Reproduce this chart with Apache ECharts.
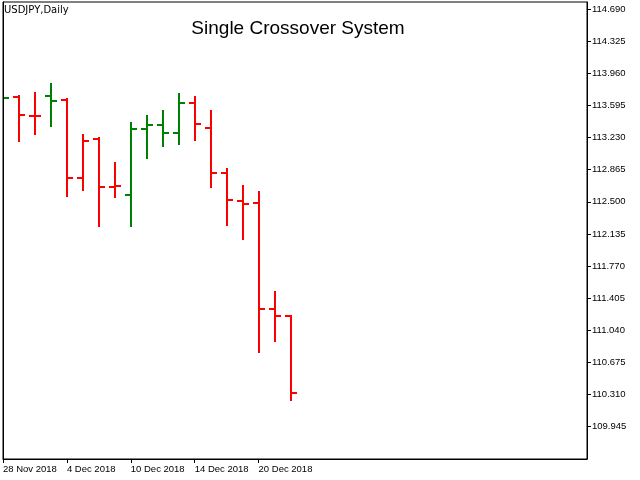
<!DOCTYPE html>
<html>
<head>
<meta charset="utf-8">
<script src="https://cdn.jsdelivr.net/npm/echarts@6/dist/echarts.min.js"></script>
<style>
    html, body { margin: 0; padding: 0; background: #ffffff; }
    #chart { width: 640px; height: 480px; }
</style>
</head>
<body>
<div id="chart"></div>
<script>
// 日线数据 USDJPY
var dates = ['28 Nov 2018', '29 Nov 2018', '30 Nov 2018', '3 Dec 2018', '4 Dec 2018', '5 Dec 2018',
    '6 Dec 2018', '7 Dec 2018', '10 Dec 2018', '11 Dec 2018', '12 Dec 2018', '13 Dec 2018',
    '14 Dec 2018', '17 Dec 2018', '18 Dec 2018', '19 Dec 2018', '20 Dec 2018', '21 Dec 2018', '24 Dec 2018'];
var opens  = [113.55, 113.694, 113.478, 113.705, 113.660, 112.774, 113.210, 112.671, 112.580, 113.330,
    113.376, 113.285, 113.626, 113.342, 112.830, 112.512, 112.490, 111.285, 111.199];
var highs  = [113.80, 113.702, 113.736, 113.838, 113.664, 113.255, 113.221, 112.937, 113.392, 113.471,
    113.531, 113.724, 113.690, 113.531, 112.869, 112.679, 112.611, 111.475, 111.199];
var lows   = [113.40, 113.190, 113.273, 113.364, 112.569, 112.637, 112.228, 112.551, 112.228, 113.001,
    113.137, 113.160, 113.202, 112.671, 112.240, 112.081, 110.794, 110.922, 110.248];
var closes = [113.682, 113.489, 113.475, 113.648, 112.774, 113.194, 112.671, 112.683, 113.330, 113.376,
    113.285, 113.626, 113.387, 112.830, 112.524, 112.478, 111.285, 111.206, 110.331];
// 信号: 1 = 绿, 0 = 红
var signals = [1, 0, 0, 1, 0, 0, 0, 0, 1, 1, 1, 1, 0, 0, 0, 0, 0, 0, 0];

// 坐标轴刻度
var priceTicks = [109.945, 110.310, 110.675, 111.040, 111.405, 111.770, 112.135,
    112.500, 112.865, 113.230, 113.595, 113.960, 114.325, 114.690];
var dateTicks = [0, 4, 8, 12, 16];

var myChart = echarts.init(document.getElementById('chart'));

var seriesData = [];
for (var i = 0; i < dates.length; i++) {
    seriesData.push([i, opens[i], highs[i], lows[i], closes[i], signals[i]]);
}

// 美国线: 竖线 + 左开盘 + 右收盘
function renderBar(params, api) {
    var x = Math.round(api.coord([api.value(0), 0])[0]);
    var yOpen = Math.round(api.coord([0, api.value(1)])[1]);
    var yHigh = Math.round(api.coord([0, api.value(2)])[1]);
    var yLow = Math.round(api.coord([0, api.value(3)])[1]);
    var yClose = Math.round(api.coord([0, api.value(4)])[1]);
    var color = api.value(5) == 1 ? '#008000' : '#ff0000';
    var style = { stroke: color, lineWidth: 2 };
    return {
        type: 'group',
        children: [
            { type: 'line', shape: { x1: x, y1: yHigh - 1, x2: x, y2: yLow + 1 }, style: style },
            { type: 'line', shape: { x1: x - 6, y1: yOpen, x2: x, y2: yOpen }, style: style },
            { type: 'line', shape: { x1: x, y1: yClose, x2: x + 6, y2: yClose }, style: style }
        ]
    };
}

var option = {
    backgroundColor: '#ffffff',
    animation: false,
    title: [
        {
            text: 'Single Crossover System',
            left: 298,
            top: 19,
            padding: 0,
            textAlign: 'center',
            textStyle: {
                fontFamily: 'Liberation Sans',
                fontSize: 19,
                fontWeight: 'normal',
                color: '#000000'
            }
        },
        {
            text: 'USDJPY,Daily',
            left: 4,
            top: 5,
            padding: 0,
            textStyle: {
                fontFamily: 'DejaVu Sans',
                fontSize: 10,
                fontWeight: 'normal',
                color: '#000000'
            }
        }
    ],
    grid: {
        left: 2,
        right: 53,
        top: 2,
        bottom: 21,
        show: true,
        borderColor: '#000000',
        borderWidth: 1,
        backgroundColor: '#ffffff'
    },
    xAxis: {
        type: 'value',
        min: 0,
        max: 36.5625,
        axisLine: { show: true, onZero: false, lineStyle: { color: '#000000', width: 1 } },
        axisTick: { show: true, customValues: dateTicks, length: 4, lineStyle: { color: '#000000' } },
        axisLabel: {
            customValues: dateTicks,
            align: 'left',
            margin: 5,
            fontFamily: 'Liberation Sans',
            fontSize: 9.5,
            color: '#000000',
            formatter: function (v) { return dates[Math.round(v)]; }
        },
        splitLine: { show: false }
    },
    yAxis: [
        {
            type: 'value',
            position: 'right',
            min: 109.578,
            max: 114.770,
            axisLine: { show: true, onZero: false, lineStyle: { color: '#000000', width: 1 } },
            axisTick: { show: true, customValues: priceTicks, length: 4, lineStyle: { color: '#000000' } },
            axisLabel: {
                customValues: priceTicks,
                margin: 5,
                fontFamily: 'Liberation Sans',
                fontSize: 9.5,
                color: '#000000',
                formatter: function (v) { return v.toFixed(3); }
            },
            splitLine: { show: false }
        },
        {
            // 左边框线, 盖住第一根线
            type: 'value',
            position: 'left',
            min: 109.578,
            max: 114.770,
            z: 10,
            axisLine: { show: true, onZero: false, lineStyle: { color: '#000000', width: 1 } },
            axisTick: { show: false },
            axisLabel: { show: false },
            splitLine: { show: false }
        }
    ],
    series: [
        {
            type: 'custom',
            clip: true,
            renderItem: renderBar,
            encode: { x: 0, y: [1, 2, 3, 4] },
            data: seriesData
        }
    ]
};
myChart.setOption(option);
</script>
</body>
</html>
